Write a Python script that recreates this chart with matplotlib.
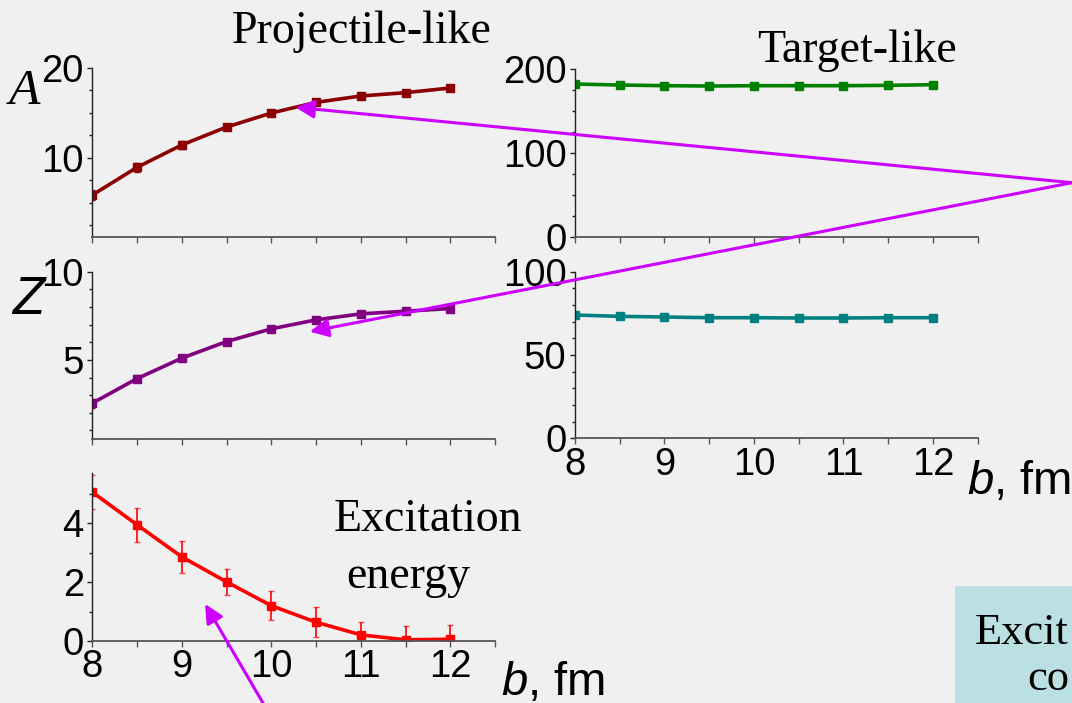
'''
Projectile-like / target-like A, Z and excitation energy vs impact parameter
'''

# imports #
import numpy as np
import matplotlib.pyplot as plt
from matplotlib.ticker import MultipleLocator
from matplotlib.patches import Rectangle

# data #
b = [8, 8.5, 9, 9.5, 10, 10.5, 11, 11.5, 12]
A_proj = [5.84, 8.93, 11.42, 13.42, 14.98, 16.17, 16.88, 17.25, 17.77]
A_proj_err = [0.55, 0.5, 0.4, 0.25, 0.2, 0.2, 0.15, 0.15, 0.15]
A_targ = [182.1, 180.9, 180.1, 179.7, 180.1, 180.1, 180.1, 180.5, 181.3]
Z_proj = [2.55, 3.94, 5.10, 6.04, 6.76, 7.27, 7.61, 7.76, 7.91]
Z_proj_err = [0.25, 0.2, 0.15, 0.12, 0.1, 0.1, 0.1, 0.1, 0.1]
Z_targ = [74.0, 73.2, 72.8, 72.4, 72.4, 72.2, 72.2, 72.4, 72.4]
E_exc = [5.06, 3.95, 2.86, 2.01, 1.20, 0.64, 0.21, 0.04, 0.06]
E_exc_err = [0.57, 0.57, 0.54, 0.45, 0.49, 0.50, 0.43, 0.48, 0.49]

# style #
W, H = 1072, 703
BG = '#f0f0f0'
MAGENTA = '#cc00ff'
SANS = 'Liberation Sans'
SERIF = 'Liberation Serif'
plt.rcParams['font.family'] = [SANS, 'DejaVu Sans']
plt.rcParams['mathtext.fontset'] = 'custom'
plt.rcParams['mathtext.it'] = 'Liberation Sans:italic'
plt.rcParams['mathtext.rm'] = 'Liberation Sans'

fig = plt.figure(figsize=(W / 100, H / 100), dpi=100, facecolor=BG)


def px(left, top, right, bottom):
    # pixel box (from top-left) -> figure fraction rect
    return [left / W, 1 - bottom / H, (right - left) / W, (bottom - top) / H]


def panel(rect, y, yerr, color, ylim, major, minor, xlabels):
    ax = fig.add_axes(rect, facecolor='none')
    ax.errorbar(b, y, yerr=yerr, color=color, lw=2.6, marker='s', ms=5.5,
                ecolor=color, elinewidth=1.2, capsize=2.5, capthick=1)
    ax.set_xlim(8, 12.5)
    ax.set_ylim(*ylim)
    ax.xaxis.set_major_locator(MultipleLocator(1))
    ax.xaxis.set_minor_locator(MultipleLocator(0.5))
    ax.yaxis.set_major_locator(MultipleLocator(major))
    ax.yaxis.set_minor_locator(MultipleLocator(minor))
    for s in ['top', 'right']:
        ax.spines[s].set_visible(False)
    ax.spines['left'].set_color('#222222')
    ax.spines['bottom'].set_color('#555555')
    ax.spines['left'].set_linewidth(1.0)
    ax.spines['bottom'].set_linewidth(1.3)
    ax.tick_params(axis='x', which='both', direction='out', length=4.5,
                   width=1.0, color='#555555', labelsize=27.5, pad=1.5,
                   labelbottom=xlabels)
    ax.tick_params(axis='y', which='major', direction='out', length=3.6,
                   width=1.0, color='#222222', labelsize=27.5, pad=2.5)
    ax.tick_params(axis='y', which='minor', direction='out', length=2.5,
                   width=1.0, color='#222222')
    return ax


# panels #
ax1 = panel(px(92.3, 68, 495, 237.3), A_proj, A_proj_err, '#8b0000',
            (1.13, 20), 10, 2.5, False)
ax2 = panel(px(575, 69, 977.7, 236.7), A_targ, None, '#008000',
            (0, 200), 100, 25, False)
ax3 = panel(px(92.3, 271.7, 495, 439.3), Z_proj, Z_proj_err, '#800080',
            (0.5, 10), 5, 1, False)
ax4 = panel(px(575, 271.7, 977.7, 438.3), Z_targ, None, '#008080',
            (0, 100), 50, 10, True)
ax5 = panel(px(92.3, 473.3, 495, 641), E_exc, E_exc_err, '#ff0000',
            (0, 5.7), 2, 1, True)
for line in ax5.lines[1:]:
    line.set_alpha(0.7)

# texts #
fig.text(362 / W, 1 - 43 / H, 'Projectile-like', family=SERIF, fontsize=33,
         ha='center', va='baseline')
fig.text(857 / W, 1 - 62 / H, 'Target-like', family=SERIF, fontsize=33,
         ha='center', va='baseline')
fig.text(334 / W, 1 - 531 / H, 'Excitation', family=SERIF, fontsize=33,
         ha='left', va='baseline')
fig.text(346 / W, 1 - 588 / H, 'energy', family=SERIF, fontsize=33,
         ha='left', va='baseline')
fig.text(9 / W, 1 - 104 / H, 'A', family=SERIF, style='italic', fontsize=37,
         ha='left', va='baseline')
fig.text(12 / W, 1 - 314 / H, 'Z', family=SANS, style='italic', fontsize=38,
         ha='left', va='baseline')
fig.text(967 / W, 1 - 494 / H, r'$b$, fm', fontsize=34, ha='left',
         va='baseline')
fig.text(501 / W, 1 - 695 / H, r'$b$, fm', fontsize=34, ha='left',
         va='baseline')

# bottom-right box (cut off on the slide) #
fig.patches.append(Rectangle((955 / W, 0), 1 - 955 / W, 117 / H,
                             transform=fig.transFigure, facecolor='#bbe0e3',
                             edgecolor='none', zorder=0))
fig.text(975 / W, 1 - 644 / H, 'Excit', family=SERIF, fontsize=32,
         ha='left', va='baseline')
fig.text(1027 / W, 1 - 690 / H, 'co', family=SERIF, fontsize=32,
         ha='left', va='baseline')

# arrows #
ov = fig.add_axes([0, 0, 1, 1], facecolor='none')
ov.set_xlim(0, 1)
ov.set_ylim(0, 1)
ov.axis('off')
aprops = dict(arrowstyle='-|>,head_length=0.45,head_width=0.22',
              color=MAGENTA, lw=2.2, mutation_scale=25, shrinkA=0, shrinkB=0)
ov.annotate('', xy=(10.27, 15.62), xycoords=ax1.transData,
            xytext=(1.0, 1 - 182.7 / H), textcoords='figure fraction',
            arrowprops=aprops, annotation_clip=False)
ov.annotate('', xy=(10.43, 6.6), xycoords=ax3.transData,
            xytext=(1.0, 1 - 182.7 / H), textcoords='figure fraction',
            arrowprops=aprops, annotation_clip=False)
ov.annotate('', xy=(9.26, 1.26), xycoords=ax5.transData,
            xytext=(263 / W, 0.0), textcoords='figure fraction',
            arrowprops=aprops, annotation_clip=False)

plt.savefig('out.png', dpi=100, facecolor=fig.get_facecolor())
